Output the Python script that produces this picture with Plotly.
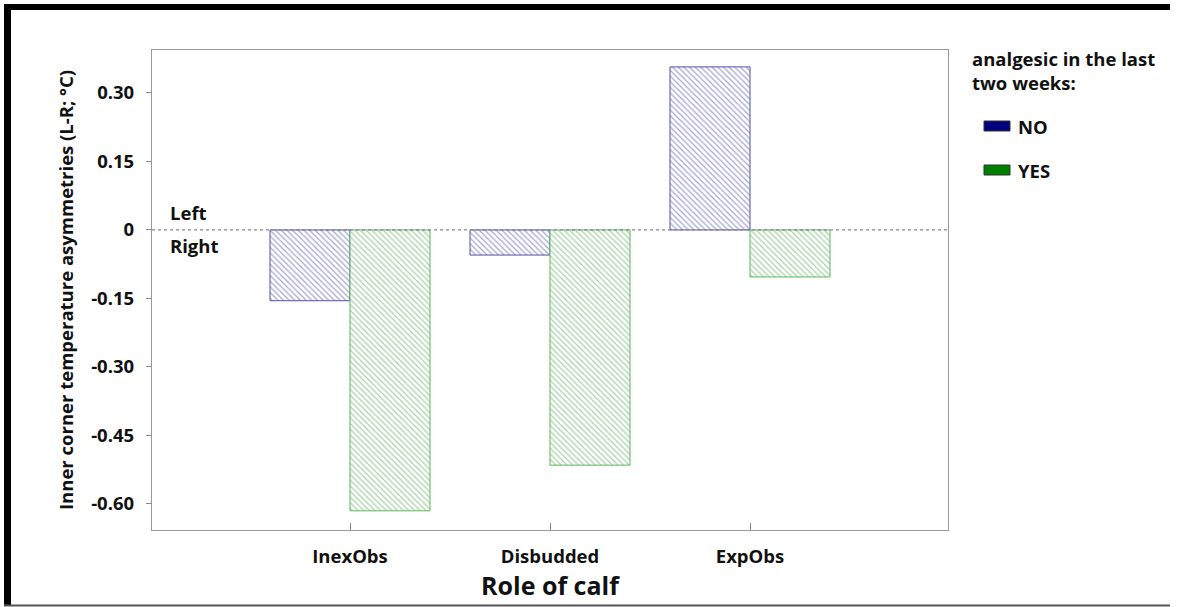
import plotly.graph_objects as go

# Data
roles = ["InexObs", "Disbudded", "ExpObs"]
series_names = ["NO", "YES"]
asym_no = [-0.155, -0.055, 0.357]
asym_yes = [-0.615, -0.515, -0.103]

y_tickvals = [-0.60, -0.45, -0.30, -0.15, 0, 0.15, 0.30]
y_ticktext = ["-0.60", "-0.45", "-0.30", "-0.15", "0", "0.15", "0.30"]

FONT = "Open Sans"
line_colors = ["#5050aa", "#5cb85c"]
hatch_colors = ["#4a4aa8", "#4aa84a"]
swatch_colors = ["#00007f", "#008000"]

fig = go.Figure()
for name, vals, lc, hc in zip(series_names, [asym_no, asym_yes], line_colors, hatch_colors):
    fig.add_trace(go.Bar(
        x=roles, y=vals, name=name, showlegend=False,
        marker=dict(
            color="white",
            line=dict(color=lc, width=1),
            pattern=dict(shape="\\", fgcolor=hc, bgcolor="white", size=4, solidity=0.3),
        ),
    ))

axis_font = dict(family=FONT, size=18.5, color="#111", weight="bold")

fig.update_layout(
    width=1178, height=607,
    margin=dict(l=152, r=230, t=50, b=77),
    paper_bgcolor="white", plot_bgcolor="white",
    barmode="group", bargap=0.2, bargroupgap=0,
    font=dict(family=FONT, color="#111"),
    xaxis=dict(
        range=[-0.99, 2.99], showline=True, linecolor="#999", linewidth=1.3, mirror=True,
        ticks="inside", ticklen=7, tickcolor="#888", tickwidth=1.3,
        tickfont=axis_font, ticklabelstandoff=10, showgrid=False,
        title=dict(text="Role of calf", font=dict(family=FONT, size=25, color="#111", weight="bold"), standoff=4),
    ),
    yaxis=dict(
        range=[-0.657, 0.394], showline=True, linecolor="#999", linewidth=1.3, mirror=True,
        ticks="outside", ticklen=5, tickcolor="#888", tickwidth=1.3,
        tickvals=y_tickvals, ticktext=y_ticktext, tickfont=axis_font,
        ticklabelstandoff=8, showgrid=False, zeroline=False,
        title=dict(text="Inner corner temperature asymmetries (L-R; °C)", font=axis_font, standoff=12),
    ),
)

# dotted zero line
fig.add_shape(type="line", xref="paper", yref="y", x0=0, x1=1, y0=0, y1=0,
              line=dict(color="#888", width=1.2, dash="dot"), layer="above")

ann_font = dict(family=FONT, size=18.5, color="#111", weight="bold")
fig.add_annotation(text="Left", xref="paper", yref="y", x=0.02, y=0, xanchor="left",
                   yanchor="middle", yshift=17, showarrow=False, font=ann_font)
fig.add_annotation(text="Right", xref="paper", yref="y", x=0.02, y=0, xanchor="left",
                   yanchor="middle", yshift=-16, showarrow=False, font=ann_font)

# legend block
px_w = 796.0
px_h = 480.0
def px(xp):
    return (xp - 152) / px_w
def py(yp):
    return (530 - yp) / px_h

fig.add_annotation(text="analgesic in the last<br>two weeks:", xref="paper", yref="paper",
                   x=px(970), y=py(44), xanchor="left", yanchor="top", align="left",
                   showarrow=False, font=ann_font)
for i, (name, col) in enumerate(zip(series_names, swatch_colors)):
    yc = 126 + i * 44
    fig.add_shape(type="rect", xref="paper", yref="paper",
                  x0=px(984), x1=px(1010), y0=py(yc - 5), y1=py(yc + 5),
                  fillcolor=col, line=dict(color="#333", width=1))
    fig.add_annotation(text=name, xref="paper", yref="paper", x=px(1016), y=py(yc),
                       xanchor="left", yanchor="middle", showarrow=False, font=ann_font)

# outer frame (filled bands)
fig.add_shape(type="rect", xref="paper", yref="paper", x0=px(4), x1=px(1170), y0=py(4), y1=py(10),
              fillcolor="black", line=dict(width=0))
fig.add_shape(type="rect", xref="paper", yref="paper", x0=px(4), x1=px(11), y0=py(4), y1=py(605),
              fillcolor="black", line=dict(width=0))
fig.add_shape(type="rect", xref="paper", yref="paper", x0=px(4), x1=px(1170), y0=py(604.5), y1=py(606.5),
              fillcolor="#555", line=dict(width=0))

fig.write_html("out.html")
